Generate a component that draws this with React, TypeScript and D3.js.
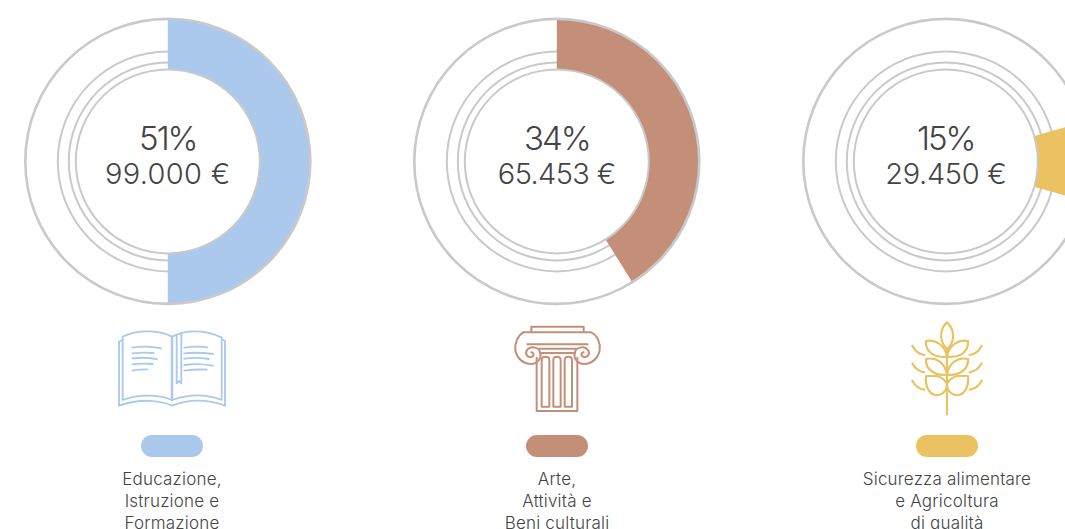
import React from "react";
import * as d3 from "d3";

const percents = ["51%", "34%", "15%"];
const amounts = ["99.000 €", "65.453 €", "29.450 €"];
const startDegrees = [0, 0, 74];
const endDegrees = [180, 148, 106];
const colors = ["#abc9ec", "#c38f79", "#ebc262"];
const labels = [
  ["Educazione,", "Istruzione e", "Formazione"],
  ["Arte,", "Attività e", "Beni culturali"],
  ["Sicurezza alimentare", "e Agricoltura", "di qualità"],
];
const donutCentres = [167.8, 556.8, 945.8];
const legendCentres = [172, 557, 947];
const amountTracking = [0.3, -0.6, -0.3];

const FONT = "Inter, 'Open Sans', sans-serif";
const deg = d3.scaleLinear().domain([0, 360]).range([0, 2 * Math.PI]);
const arc = d3.arc();

const bookPaths = [
  "M245,65 C215,48 150,40 98,65 L98,255 C150,235 215,240 245,255 Z",
  "M247,65 C290,42 350,45 395,68 L395,255 C345,235 290,240 247,255 Z",
  "M98,75 L87,80 L87,272 C150,250 210,255 247,272 C290,255 345,250 405,272 L405,78 L395,72",
  "M260,60 L260,205 L267,198 L274,205 L274,55",
  "M127,98 C155,94 190,95 213,100",
  "M127,115 C150,112 170,112 191,114",
  "M127,130 C150,127 175,128 200,132",
  "M127,148 C145,146 165,145 188,147",
  "M127,167 C140,164 155,163 172,163",
  "M283,98 C305,95 330,94 352,97",
  "M283,115 C310,112 340,113 369,117",
  "M283,131 C305,128 330,128 356,132",
  "M283,150 C310,146 340,147 369,152",
  "M283,167 C305,164 330,163 350,164",
];
const columnPaths = [
  "M124,50 L124,35 L281,35 L281,50",
  "M100,52 L303,52 C322,60 332,85 329,105 C325,130 305,147 282,147 C262,147 250,130 254,113 C258,97 280,92 292,103 C302,113 295,128 282,126 C272,124 272,112 281,112",
  "M100,52 C85,60 73,85 76,105 C80,130 100,147 123,147 C143,147 155,130 151,113 C147,97 125,92 113,103 C103,113 110,128 123,126 C133,124 133,112 124,112",
  "M112,88 L293,88",
  "M148,101 L257,101",
  "M150,114 L255,114",
  "M140,128 L140,288 L262,288 L262,128",
  "M155,275 L155,135 C155,122 178,122 178,135 L178,275 Z",
  "M190,275 L190,135 C190,122 212,122 212,135 L212,275 Z",
  "M224,275 L224,135 C224,122 246,122 246,135 L246,275 Z",
];
const wheatPaths = [
  "M171,100 L171,298",
  "M171,22 C155,35 150,60 155,75 C160,90 168,100 171,102 C175,100 183,90 188,75 C192,55 185,35 171,22 Z",
  "M108,78 C135,72 165,90 171,125 C140,130 105,115 108,78 Z",
  "M234,78 C207,72 177,90 171,125 C202,130 237,115 234,78 Z",
  "M108,132 C140,125 165,145 171,178 C140,185 105,165 108,132 Z",
  "M234,132 C202,125 177,145 171,178 C202,185 237,165 234,132 Z",
  "M108,183 L140,183 C155,185 168,198 171,210 C170,232 150,243 135,240 C115,235 105,210 108,183 Z",
  "M234,183 L202,183 C187,185 174,198 171,210 C172,232 192,243 207,240 C227,235 237,210 234,183 Z",
  "M67,92 C75,108 88,118 103,120",
  "M67,145 C75,160 88,170 103,172",
  "M67,197 C75,212 88,222 103,224",
  "M275,92 C267,108 254,118 239,120",
  "M275,145 C267,160 254,170 239,172",
  "M275,197 C267,212 254,222 239,224",
];
const icons = [
  { paths: bookPaths, x: 90, y: 315, w: 5.5 },
  { paths: columnPaths, x: 490, y: 315, w: 6 },
  { paths: wheatPaths, x: 890, y: 315, w: 6.5 },
];

const RING = "#c9c9c9";

export default function App() {
  return (
    <svg
      width={1065}
      height={529}
      viewBox="0 0 1065 529"
      style={{ position: "absolute", left: 0, top: 0, background: "#fff" }}
    >
      {donutCentres.map((cx, i) => (
        <g key={i}>
          <g transform={`translate(${cx},161.4)`} fill="none" stroke={RING}>
            <circle r={110} strokeWidth={2} />
            <circle r={99} strokeWidth={2} />
            <path
              d={arc({
                innerRadius: 92,
                outerRadius: 143,
                startAngle: deg(startDegrees[i]),
                endAngle: deg(endDegrees[i]),
              }) as string}
              fill={colors[i]}
              stroke="none"
            />
            <circle r={92} strokeWidth={2} />
            <circle r={142.5} strokeWidth={2.6} />
            <text
              y={-11}
              textAnchor="middle"
              fontFamily={FONT}
              fontWeight={300}
              fontSize={33}
              letterSpacing={-2}
              fill="#444"
              stroke="none"
            >
              {percents[i]}
            </text>
            <text
              y={23}
              textAnchor="middle"
              fontFamily={FONT}
              fontWeight={300}
              fontSize={29}
              letterSpacing={amountTracking[i]}
              fill="#444"
              stroke="none"
            >
              {amounts[i]}
            </text>
          </g>
          <g
            transform={`translate(${icons[i].x},${icons[i].y}) scale(${1 / 3})`}
            fill="none"
            stroke={colors[i]}
            strokeWidth={icons[i].w}
            strokeLinecap="round"
            strokeLinejoin="round"
          >
            {icons[i].paths.map((d, k) => (
              <path key={k} d={d} />
            ))}
          </g>
          <rect
            x={legendCentres[i] - 31}
            y={435}
            width={62}
            height={22}
            rx={11}
            fill={colors[i]}
          />
          {labels[i].map((t, k) => (
            <text
              key={k}
              x={legendCentres[i]}
              y={484.5 + k * 22}
              textAnchor="middle"
              fontFamily={FONT}
              fontWeight={300}
              fontSize={17}
              letterSpacing={0.2}
              fill="#444"
            >
              {t}
            </text>
          ))}
        </g>
      ))}
    </svg>
  );
}
